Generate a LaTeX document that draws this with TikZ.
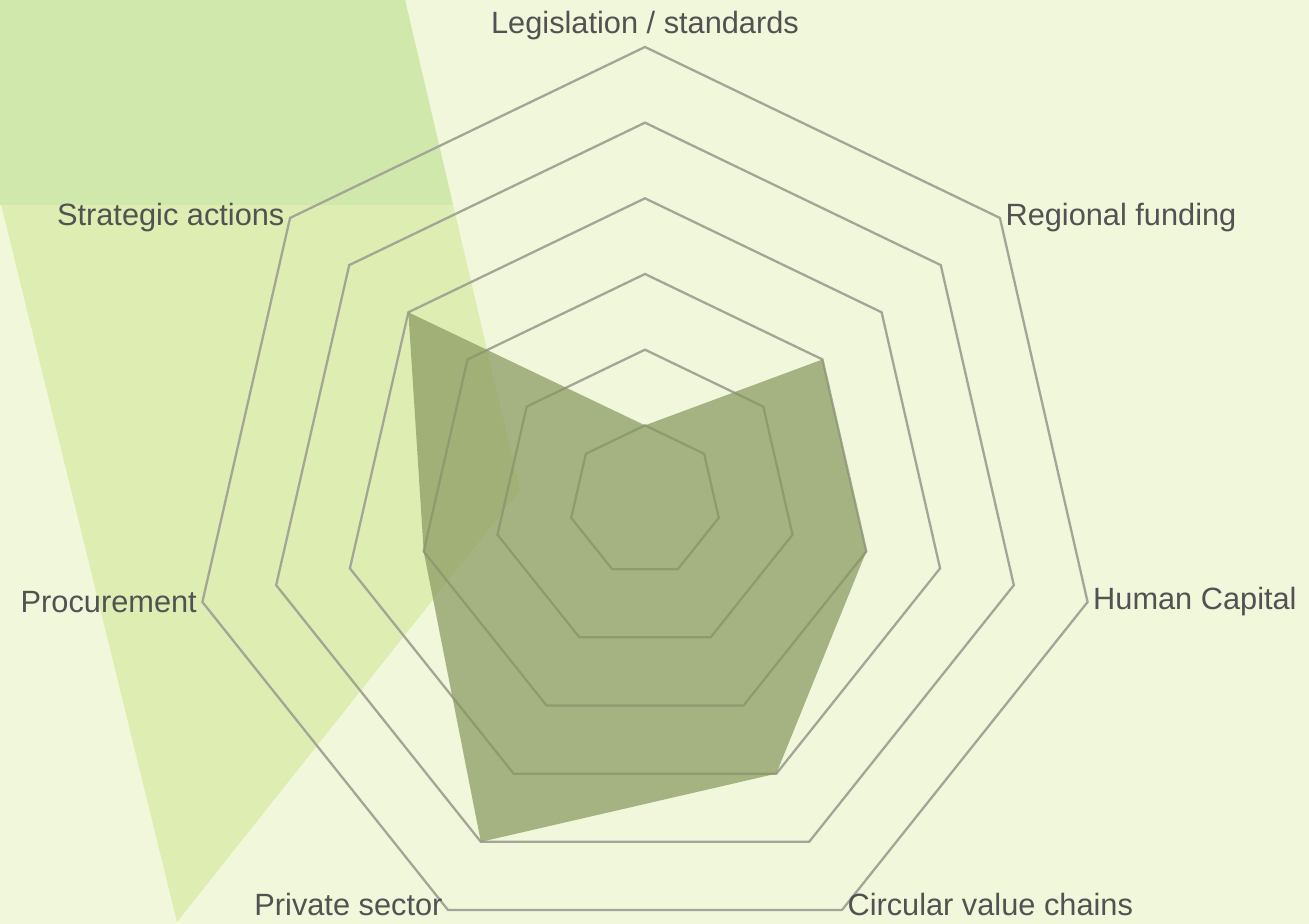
\documentclass[tikz,border=0pt]{standalone}
\usepackage{fontspec}
\setmainfont{Liberation Sans}
\usepackage{tikz}
\usetikzlibrary{shapes.geometric}
\definecolor{bgcol}{RGB}{241,247,218}
\definecolor{bandcol}{RGB}{222,237,178}
\definecolor{boxcol}{RGB}{208,232,172}
\definecolor{gridcol}{RGB}{163,165,150}
\definecolor{datacol}{RGB}{134,151,95}
\definecolor{labelcol}{RGB}{82,82,82}
\tikzset{
	ringstyle/.style={regular polygon,regular polygon sides=7,draw=gridcol,line width=1.3pt,inner sep=0pt},
	datastyle/.style={fill=datacol,fill opacity=0.7},
	labelstyle/.style={text=labelcol,font=\fontsize{17.5}{20}\selectfont,inner sep=3pt}
}

\begin{document}
\begin{tikzpicture}
	\useasboundingbox (-12.9,-8.46) rectangle (13.28,10.02);
	\fill[bgcol] (-12.9,-8.46) rectangle (13.28,10.02);
	\fill[bandcol] (-13.88,10.02) -- (-4.8,10.02) -- (-2.5,0.22) -- (-9.36,-8.42) -- cycle;
	\fill[boxcol] (-13.88,10.02) -- (-4.8,10.02) -- (-3.84,5.92) -- (-12.9,5.92) -- cycle;
	\node[ringstyle,minimum size=3.027cm] (r1) at (0,0) {};
	\node[ringstyle,minimum size=6.053cm] (r2) at (0,0) {};
	\node[ringstyle,minimum size=9.08cm] (r3) at (0,0) {};
	\node[ringstyle,minimum size=12.107cm] (r4) at (0,0) {};
	\node[ringstyle,minimum size=15.133cm] (r5) at (0,0) {};
	\node[ringstyle,minimum size=18.16cm] (r6) at (0,0) {};
	\fill[datastyle] (90:1.513) -- (38.57:4.54) -- (-12.86:4.54) -- (-64.29:6.053)
		-- (-115.71:7.567) -- (192.86:4.54) -- (141.43:6.053) -- cycle;
	\node[labelstyle,anchor=south,yshift=1pt] (leg) at (90:9.08) {Legislation / standards};
	\node[labelstyle,anchor=west] (reg) at (38.57:9.08) {Regional funding};
	\node[labelstyle,anchor=west] (hum) at (-12.86:9.08) {Human Capital};
	\node[labelstyle,anchor=west,yshift=3pt] (circ) at (-64.29:9.08) {Circular value chains};
	\node[labelstyle,anchor=east,yshift=3pt] (priv) at (-115.71:9.08) {Private sector};
	\node[labelstyle,anchor=east] (proc) at (192.86:9.08) {Procurement};
	\node[labelstyle,anchor=east] (strat) at (141.43:9.08) {Strategic actions};
\end{tikzpicture}
\end{document}
